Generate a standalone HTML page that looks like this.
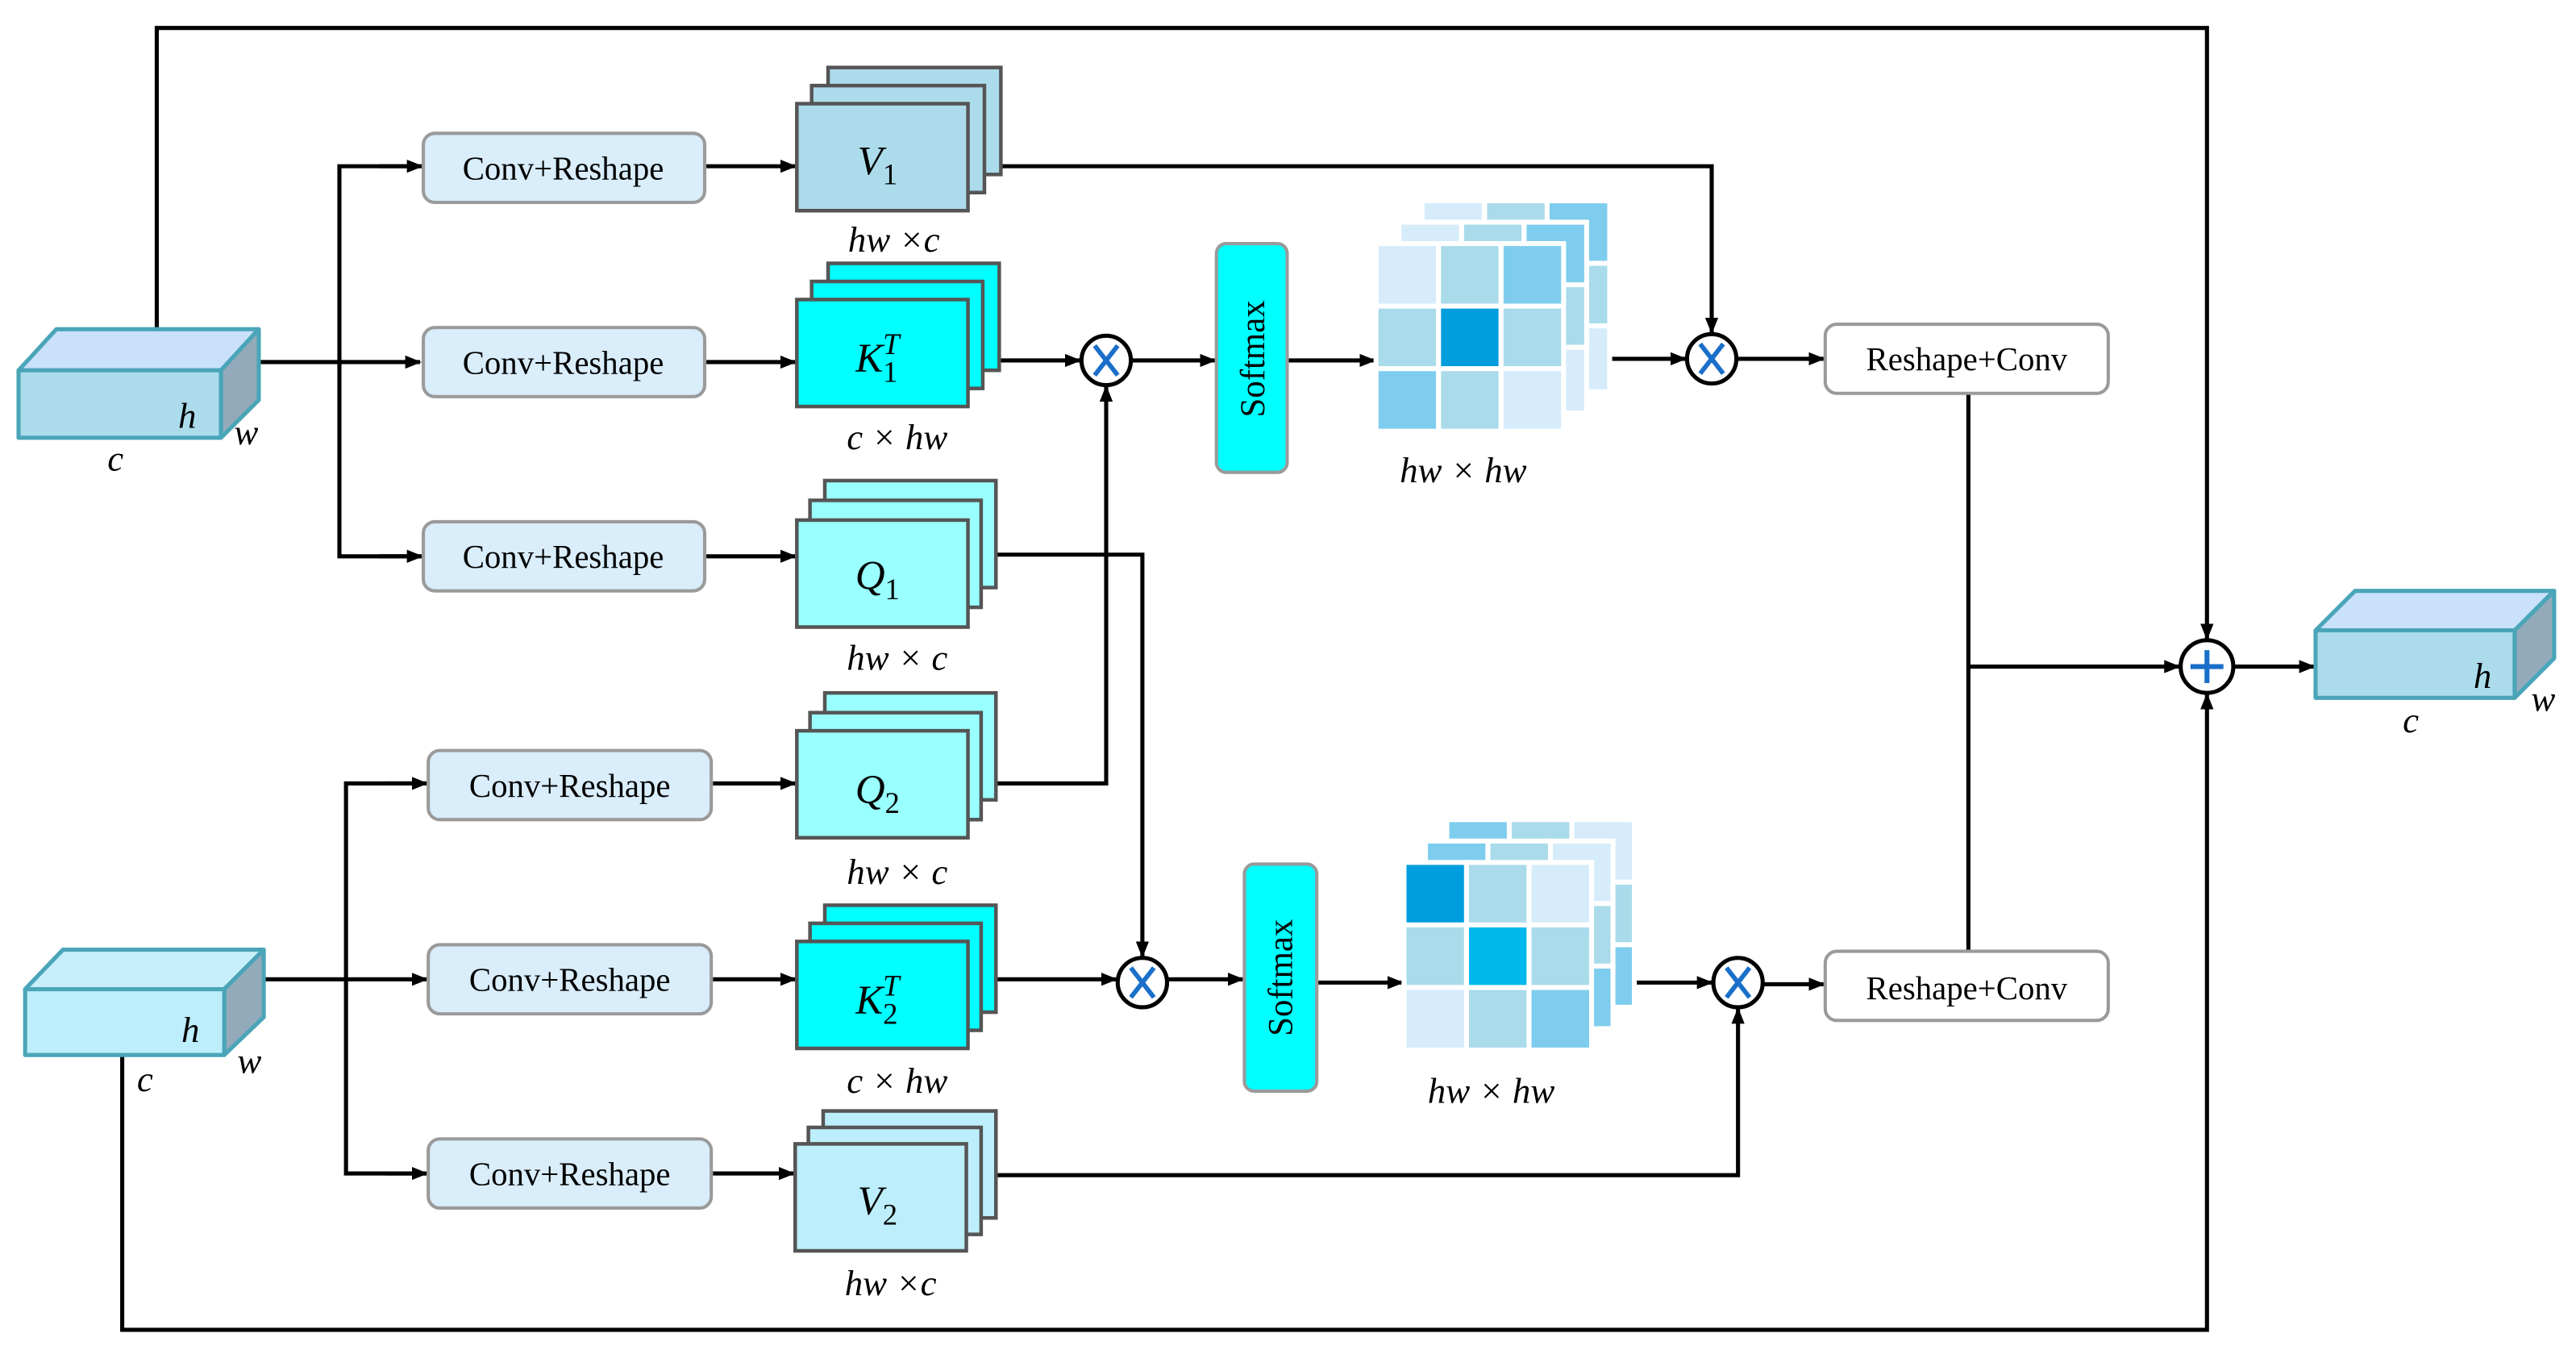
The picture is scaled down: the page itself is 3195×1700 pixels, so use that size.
<!DOCTYPE html>
<html><head><meta charset="utf-8"><style>
html,body{margin:0;padding:0;background:#fff;}
svg{display:block;}
svg text{font-family:"Liberation Serif","Times New Roman",serif !important;}
</style></head><body>
<svg width="3195" height="1700" viewBox="0 0 1565 833" xmlns="http://www.w3.org/2000/svg" font-family="Liberation Serif, serif">
<defs>
<marker id="a" markerWidth="10" markerHeight="8" refX="9" refY="4" orient="auto" markerUnits="userSpaceOnUse">
<path d="M0,0 L10,4 L0,8 z" fill="#000"/></marker>
<g id="mul"><circle r="15" fill="#fff" stroke="#000" stroke-width="2.5"/><path d="M-7,-9 L7,9 M7,-9 L-7,9" stroke="#1a6fc9" stroke-width="2.8"/></g>
</defs>
<g fill="none" stroke="#000" stroke-width="2.5">
<polyline points="95,200 95,17 1341,17 1341,388" marker-end="url(#a)"/>
<polyline points="74,641 74,808 1341,808 1341,422" marker-end="url(#a)"/>
<line x1="157" y1="220" x2="255" y2="220" marker-end="url(#a)"/>
<polyline points="255,101 206,101 206,338 255,338" />
<line x1="230" y1="101" x2="256" y2="101" marker-end="url(#a)"/>
<line x1="230" y1="338" x2="256" y2="338" marker-end="url(#a)"/>
<line x1="160" y1="595" x2="259" y2="595" marker-end="url(#a)"/>
<polyline points="259,476 210,476 210,713 259,713"/>
<line x1="234" y1="476" x2="259" y2="476" marker-end="url(#a)"/>
<line x1="234" y1="713" x2="259" y2="713" marker-end="url(#a)"/>
<line x1="429" y1="101" x2="483" y2="101" marker-end="url(#a)"/>
<line x1="429" y1="220" x2="483" y2="220" marker-end="url(#a)"/>
<line x1="429" y1="338" x2="483" y2="338" marker-end="url(#a)"/>
<line x1="433" y1="476" x2="483" y2="476" marker-end="url(#a)"/>
<line x1="433" y1="595" x2="483" y2="595" marker-end="url(#a)"/>
<line x1="433" y1="713" x2="482" y2="713" marker-end="url(#a)"/>
<polyline points="608,101 1040,101 1040,202" marker-end="url(#a)"/>
<line x1="606" y1="219" x2="656" y2="219" marker-end="url(#a)"/>
<line x1="687" y1="219" x2="738" y2="219" marker-end="url(#a)"/>
<line x1="782" y1="219" x2="835" y2="219" marker-end="url(#a)"/>
<line x1="977" y1="218" x2="1024" y2="218" marker-end="url(#a)"/>
<line x1="1055" y1="218" x2="1108" y2="218" marker-end="url(#a)"/>
<line x1="1196" y1="239" x2="1196" y2="578"/>
<line x1="1196" y1="405" x2="1324" y2="405" marker-end="url(#a)"/>
<line x1="1357" y1="405" x2="1406" y2="405" marker-end="url(#a)"/>
<polyline points="606,337 694,337 694,581" marker-end="url(#a)"/>
<polyline points="606,476 672,476 672,235" marker-end="url(#a)"/>
<line x1="606" y1="595" x2="678" y2="595" marker-end="url(#a)"/>
<line x1="709" y1="595" x2="755" y2="595" marker-end="url(#a)"/>
<line x1="800" y1="597" x2="852" y2="597" marker-end="url(#a)"/>
<line x1="993" y1="597" x2="1040" y2="597" marker-end="url(#a)"/>
<line x1="1071" y1="598" x2="1108" y2="598" marker-end="url(#a)"/>
<polyline points="606,714 1056,714 1056,613" marker-end="url(#a)"/>
</g>
<g stroke="#4aa5b8" stroke-width="2.5" stroke-linejoin="round">
<polygon points="11,225 34,200 157,200 134,225" fill="#c9e1fb"/>
<polygon points="134,225 157,200 157,243 134,266" fill="#93aabb"/>
<rect x="11" y="225" width="123" height="41" fill="#acdcec"/>
<polygon points="15,601 38,577 160,577 136,601" fill="#c9eefb"/>
<polygon points="136,601 160,577 160,618 136,641" fill="#93aabb"/>
<rect x="15" y="601" width="121" height="40" fill="#bdeefb"/>
<polygon points="1407,383 1431,359 1552,359 1528,383" fill="#c9e1fb"/>
<polygon points="1528,383 1552,359 1552,400 1528,424" fill="#93aabb"/>
<rect x="1407" y="383" width="121" height="41" fill="#acdcec"/>
</g>
<g font-style="italic" font-size="22">
<text x="108" y="260">h</text><text x="142" y="270">w</text><text x="65" y="286">c</text>
<text x="110" y="633">h</text><text x="144" y="652">w</text><text x="83" y="663">c</text>
<text x="1503" y="418">h</text><text x="1538" y="432">w</text><text x="1460" y="445">c</text></g>
<g fill="#d9edfb" stroke="#9a9a9a" stroke-width="2">
<rect x="257" y="81" width="171" height="42" rx="7"/><rect x="257" y="199" width="171" height="42" rx="7"/><rect x="257" y="317" width="171" height="42" rx="7"/>
<rect x="260" y="456" width="172" height="42" rx="7"/><rect x="260" y="574" width="172" height="42" rx="7"/><rect x="260" y="692" width="172" height="42" rx="7"/>
</g>
<g font-size="20" text-anchor="middle">
<text x="342" y="109">Conv+Reshape</text><text x="342" y="227">Conv+Reshape</text><text x="342" y="345">Conv+Reshape</text>
<text x="346" y="484">Conv+Reshape</text><text x="346" y="602">Conv+Reshape</text><text x="346" y="720">Conv+Reshape</text>
</g>
<g fill="#fff" stroke="#9a9a9a" stroke-width="2">
<rect x="1109" y="197" width="172" height="42" rx="7"/><rect x="1109" y="578" width="172" height="42" rx="7"/></g>
<g font-size="20" text-anchor="middle"><text x="1195" y="225">Reshape+Conv</text><text x="1195" y="607">Reshape+Conv</text></g>
<g stroke="#555" stroke-width="2.2">
<g fill="#acdcec"><rect x="503" y="41" width="105" height="65"/><rect x="493" y="52" width="105" height="65"/><rect x="484" y="63" width="104" height="65"/></g>
<g fill="#00ffff"><rect x="503" y="160" width="104" height="65"/><rect x="493" y="171" width="104" height="65"/><rect x="484" y="182" width="104" height="65"/></g>
<g fill="#99ffff"><rect x="501" y="292" width="104" height="65"/><rect x="492" y="304" width="104" height="65"/><rect x="484" y="316" width="104" height="65"/></g>
<g fill="#99ffff"><rect x="501" y="421" width="104" height="65"/><rect x="492" y="433" width="104" height="65"/><rect x="484" y="444" width="104" height="65"/></g>
<g fill="#00ffff"><rect x="501" y="550" width="104" height="65"/><rect x="492" y="561" width="104" height="65"/><rect x="484" y="572" width="104" height="65"/></g>
<g fill="#bdeefb"><rect x="500" y="675" width="105" height="65"/><rect x="491" y="685" width="105" height="65"/><rect x="483" y="695" width="104" height="65"/></g>
</g>
<g font-size="25" font-style="italic" text-anchor="middle">
<text x="533" y="106">V<tspan font-size="18" font-style="normal" dy="6">1</tspan></text>
<text x="533" y="226">K<tspan font-size="18" font-style="normal" dy="6">1</tspan><tspan font-size="18" dx="-9" dy="-17">T</tspan></text>
<text x="533" y="358">Q<tspan font-size="18" font-style="normal" dy="6">1</tspan></text>
<text x="533" y="488">Q<tspan font-size="18" font-style="normal" dy="6">2</tspan></text>
<text x="533" y="616">K<tspan font-size="18" font-style="normal" dy="6">2</tspan><tspan font-size="18" dx="-9" dy="-17">T</tspan></text>
<text x="533" y="738">V<tspan font-size="18" font-style="normal" dy="6">2</tspan></text>
</g>
<g font-size="22" font-style="italic" text-anchor="middle">
<text x="543" y="153">hw ×c</text><text x="545" y="273">c × hw</text><text x="545" y="407">hw × c</text>
<text x="545" y="537">hw × c</text><text x="545" y="664">c × hw</text><text x="541" y="787">hw ×c</text>
<text x="889" y="293">hw × hw</text><text x="906" y="670">hw × hw</text>
</g>
<rect x="739" y="148" width="43" height="139" rx="6" fill="#00ffff" stroke="#9a9a9a" stroke-width="2"/>
<rect x="756" y="525" width="44" height="138" rx="6" fill="#00ffff" stroke="#9a9a9a" stroke-width="2"/>
<g font-size="21" text-anchor="middle">
<text transform="translate(768,218) rotate(-90)">Softmax</text>
<text transform="translate(785,594) rotate(-90)">Softmax</text></g>
<g stroke="#fff" stroke-width="3">
<g transform="translate(864,122)"><rect x="0" y="0" width="38" height="38" fill="#d6ecfb"/><rect x="38" y="0" width="38" height="38" fill="#a9dbea"/><rect x="76" y="0" width="38" height="38" fill="#7fcdee"/><rect x="0" y="38" width="114" height="78" fill="#a9dbea"/><rect x="76" y="38" width="38" height="38" fill="#a9dbea"/><rect x="76" y="76" width="38" height="40" fill="#d6ecfb"/></g>
<g transform="translate(850,135)"><rect x="0" y="0" width="38" height="38" fill="#d6ecfb"/><rect x="38" y="0" width="38" height="38" fill="#a9dbea"/><rect x="76" y="0" width="38" height="38" fill="#7fcdee"/><rect x="0" y="38" width="114" height="78" fill="#a9dbea"/><rect x="76" y="38" width="38" height="38" fill="#a9dbea"/><rect x="76" y="76" width="38" height="40" fill="#d6ecfb"/></g>
<g transform="translate(836,148)">
<rect x="0" y="0" width="38" height="38" fill="#d6ecfb"/><rect x="38" y="0" width="38" height="38" fill="#a9dbea"/><rect x="76" y="0" width="38" height="38" fill="#7fcdee"/>
<rect x="0" y="38" width="38" height="38" fill="#a9dbea"/><rect x="38" y="38" width="38" height="38" fill="#009ddf"/><rect x="76" y="38" width="38" height="38" fill="#a9dbea"/>
<rect x="0" y="76" width="38" height="38" fill="#7fcdee"/><rect x="38" y="76" width="38" height="38" fill="#a9dbea"/><rect x="76" y="76" width="38" height="38" fill="#d6ecfb"/></g>
<g transform="translate(879,498)"><rect x="0" y="0" width="38" height="38" fill="#7fcdee"/><rect x="38" y="0" width="38" height="38" fill="#a9dbea"/><rect x="76" y="0" width="38" height="38" fill="#d6ecfb"/><rect x="76" y="38" width="38" height="38" fill="#a9dbea"/><rect x="76" y="76" width="38" height="38" fill="#7fcdee"/></g>
<g transform="translate(866,511)"><rect x="0" y="0" width="38" height="38" fill="#7fcdee"/><rect x="38" y="0" width="38" height="38" fill="#a9dbea"/><rect x="76" y="0" width="38" height="38" fill="#d6ecfb"/><rect x="76" y="38" width="38" height="38" fill="#a9dbea"/><rect x="76" y="76" width="38" height="38" fill="#7fcdee"/></g>
<g transform="translate(853,524)">
<rect x="0" y="0" width="38" height="38" fill="#009ddf"/><rect x="38" y="0" width="38" height="38" fill="#a9dbea"/><rect x="76" y="0" width="38" height="38" fill="#d6ecfb"/>
<rect x="0" y="38" width="38" height="38" fill="#a9dbea"/><rect x="38" y="38" width="38" height="38" fill="#00b8ec"/><rect x="76" y="38" width="38" height="38" fill="#a9dbea"/>
<rect x="0" y="76" width="38" height="38" fill="#d6ecfb"/><rect x="38" y="76" width="38" height="38" fill="#a9dbea"/><rect x="76" y="76" width="38" height="38" fill="#7fcdee"/></g>
</g>
<use href="#mul" x="672" y="219"/><use href="#mul" x="694" y="597"/><use href="#mul" x="1040" y="218"/><use href="#mul" x="1056" y="597"/>
<circle cx="1341" cy="405" r="16" fill="#fff" stroke="#000" stroke-width="2.5"/>
<path d="M1341,395 V415 M1331,405 H1351" stroke="#1a6fc9" stroke-width="3"/>
</svg>
</body></html>
